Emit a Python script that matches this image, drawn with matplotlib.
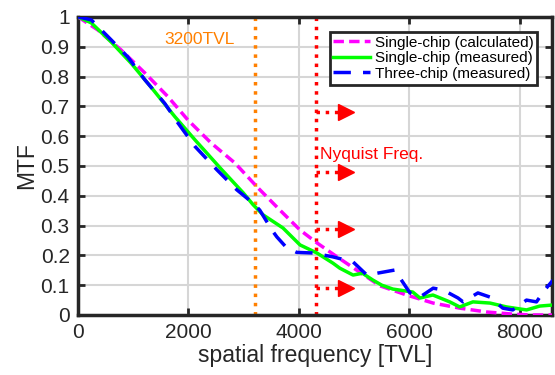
import matplotlib.pyplot as plt
import numpy as np

plt.rcParams['font.family'] = ['Liberation Sans', 'DejaVu Sans']

# single-chip, calculated
calc_x = [0, 360, 780, 1210, 1630, 1990, 2410, 2840, 3240, 3655, 4020, 4325, 4690,
          5050, 5465, 5950, 6430, 6910, 7400, 7870, 8200, 8600]
calc_y = [1.0, 0.956, 0.889, 0.812, 0.732, 0.654, 0.577, 0.51, 0.43, 0.352, 0.285, 0.242, 0.195,
          0.15, 0.098, 0.067, 0.04, 0.023, 0.01, 0.003, 0.0, 0.0]

# single-chip, measured
single_x = [0, 240, 600, 960, 1320, 1755, 2120, 2590, 2990, 3170, 3350, 3710, 4020, 4325,
            4615, 4740, 4980, 5150, 5340, 5500, 5700, 6060, 6190, 6425, 6730, 6910, 7150,
            7460, 7760, 8120, 8360, 8630]
single_y = [1.0, 0.98, 0.916, 0.845, 0.765, 0.665, 0.587, 0.49, 0.41, 0.37, 0.336, 0.292, 0.235, 0.208,
            0.174, 0.157, 0.134, 0.14, 0.117, 0.1, 0.087, 0.077, 0.057, 0.067, 0.044, 0.027, 0.044,
            0.04, 0.027, 0.017, 0.03, 0.034]

# three-chip, measured
three_x = [0, 240, 600, 900, 1210, 1570, 1810, 2120, 2515, 2875, 3170, 3290, 3510, 3600, 3780,
           3960, 4250, 4615, 4980, 5230, 5410, 5740, 5830, 6010, 6190, 6430, 6610, 6880, 6970,
           7240, 7460, 7690, 7870, 8120, 8300, 8450, 8600]
three_y = [1.0, 0.99, 0.923, 0.866, 0.789, 0.71, 0.644, 0.565, 0.487, 0.42, 0.375, 0.352, 0.285, 0.262, 0.225,
           0.21, 0.208, 0.195, 0.178, 0.134, 0.14, 0.151, 0.124, 0.074, 0.06, 0.09, 0.084, 0.057, 0.044,
           0.074, 0.06, 0.023, 0.017, 0.05, 0.044, 0.084, 0.117]

tvl_line = 3200
nyquist = 4300
arrow_y = [0.68, 0.48, 0.29, 0.09]
arrow_end = 4720
arrow_tip = 4860

fig = plt.figure(figsize=(5.55, 3.75), dpi=100)
ax = fig.add_axes([0.1405, 0.16, 0.854, 0.795])

ax.grid(True, color='#d6d6d6', linewidth=1.5, zorder=0)
ax.set_axisbelow(True)

ax.plot(calc_x, calc_y, color='#FF00FF', linewidth=2.5, dashes=(3, 1.5),
        label='Single-chip (calculated)', zorder=3)
ax.plot(single_x, single_y, color='#00FF00', linewidth=2.5,
        label='Single-chip (measured)', zorder=4)
ax.plot(three_x, three_y, color='#0000FF', linewidth=2.5, dashes=(5, 3.5),
        label='Three-chip (measured)', zorder=5)

ax.axvline(tvl_line, color='#FF8000', linestyle=':', linewidth=2.5, zorder=2)
ax.axvline(nyquist, color='#FF0000', linestyle=':', linewidth=2.5, zorder=2)

for y in arrow_y:
    ax.plot([nyquist, arrow_end], [y, y], color='#FF0000', linestyle=':', linewidth=2.5, zorder=2)
    ax.plot([arrow_tip], [y], marker='>', color='#FF0000', markersize=12, zorder=2)

ax.text(1560, 0.925, '3200TVL', color='#FF8000', fontsize=12.5, va='center')
ax.text(4390, 0.54, 'Nyquist Freq.', color='#FF0000', fontsize=12.5, va='center')

ax.set_xlim(0, 8580)
ax.set_ylim(0, 1)
ax.set_xticks([0, 2000, 4000, 6000, 8000])
ax.set_yticks(np.arange(0, 1.01, 0.1))
ax.set_yticklabels(['0', '0.1', '0.2', '0.3', '0.4', '0.5', '0.6', '0.7', '0.8', '0.9', '1'])
ax.tick_params(direction='in', length=5, width=2, labelsize=15, colors='#262626',
               top=True, right=True, pad=6)
for s in ax.spines.values():
    s.set_linewidth(2.5)
    s.set_color('#262626')

ax.set_xlabel('spatial frequency [TVL]', fontsize=16.5, color='#262626', labelpad=1)
ax.set_ylabel('MTF', fontsize=16.5, color='#262626', labelpad=2)

leg = ax.legend(loc='upper right', fontsize=11, handlelength=2.4, handletextpad=0.3,
                borderpad=0.25, labelspacing=0.1, fancybox=False, framealpha=1,
                bbox_to_anchor=(0.985, 0.975))
leg.get_frame().set_edgecolor('#262626')
leg.get_frame().set_linewidth(2)

fig.savefig('out.png', dpi=100)
